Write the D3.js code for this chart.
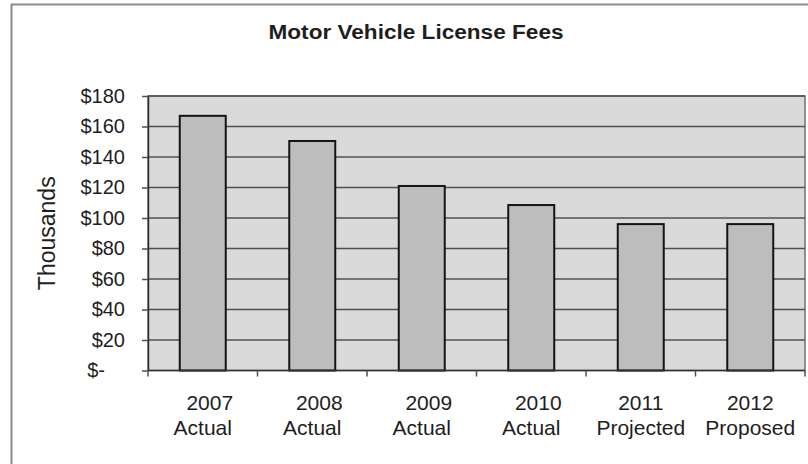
<!DOCTYPE html>
<html>
<head>
<meta charset="utf-8">
<script src="https://cdn.jsdelivr.net/npm/d3@7"></script>
<style>
  html, body { margin: 0; padding: 0; background: #fff; }
  svg { display: block; font-family: "Liberation Sans", Arial, sans-serif; }
</style>
</head>
<body>
<svg id="chart" width="808" height="464"></svg>
<script>
// Motor vehicle license fees, in thousands of dollars
const chartTitle = "Motor Vehicle License Fees";
const axisTitle = "Thousands";
const years = ["2007", "2008", "2009", "2010", "2011", "2012"];
const stages = ["Actual", "Actual", "Actual", "Actual", "Projected", "Proposed"];
const fees = [167, 150.5, 121, 108.5, 96, 96];
const yTicks = [0, 20, 40, 60, 80, 100, 120, 140, 160, 180];

const svg = d3.select("#chart");
const plot = { left: 148, right: 805, top: 96, bottom: 370.5 };
const ink = "#1e1e1e";

const x = d3.scaleBand()
  .domain(years)
  .range([plot.left, plot.right])
  .paddingInner(0.58)
  .paddingOuter(0.29);

const y = d3.scaleLinear()
  .domain([0, 180])
  .range([plot.bottom, plot.top]);

// chart frame
svg.append("rect")
  .attr("x", 11.5).attr("y", 4.5)
  .attr("width", 820).attr("height", 480)
  .attr("fill", "#fff")
  .attr("stroke", "#8c8c8c").attr("stroke-width", 2);

// title
svg.append("text")
  .attr("transform", "translate(416,39) scale(1.13,1)")
  .attr("text-anchor", "middle")
  .attr("font-size", 20).attr("font-weight", "bold")
  .attr("fill", ink)
  .text(chartTitle);

// plot area
svg.append("rect")
  .attr("x", plot.left).attr("y", plot.top)
  .attr("width", plot.right - plot.left)
  .attr("height", plot.bottom - plot.top)
  .attr("fill", "#dadada")
  .attr("stroke", "#707070").attr("stroke-width", 1.5);

// horizontal gridlines
svg.append("g")
  .selectAll("line")
  .data(yTicks.filter(d => d > 0))
  .join("line")
  .attr("x1", plot.left).attr("x2", plot.right)
  .attr("y1", d => y(d)).attr("y2", d => y(d))
  .attr("stroke", "#505050").attr("stroke-width", 1.5);

// bars
svg.append("g")
  .selectAll("rect")
  .data(years.map((yr, i) => ({ yr, v: fees[i] })))
  .join("rect")
  .attr("x", d => x(d.yr))
  .attr("y", d => y(d.v))
  .attr("width", x.bandwidth())
  .attr("height", d => y(0) - y(d.v))
  .attr("fill", "#bdbdbd")
  .attr("stroke", "#141414").attr("stroke-width", 2);

// value axis
const yAxis = d3.axisLeft(y)
  .tickValues(yTicks)
  .tickSizeInner(6).tickSizeOuter(0)
  .tickPadding(17)
  .tickFormat(d => d === 0 ? "$-" : "$" + d);

const yg = svg.append("g")
  .attr("transform", `translate(${plot.left},0)`)
  .call(yAxis);
yg.select(".domain").attr("stroke", "#303030").attr("stroke-width", 1.5);
yg.selectAll(".tick line").attr("stroke", "#505050").attr("stroke-width", 1.5);
yg.selectAll(".tick text")
  .attr("font-size", 20)
  .attr("font-family", "\"Liberation Sans\", Arial, sans-serif")
  .attr("fill", ink)
  .attr("dx", d => d === 0 ? -20 : 0);

// category axis: baseline and ticks between categories
const step = x.step();
const edge0 = x(years[0]) - (step - x.bandwidth()) / 2;
const boundaries = d3.range(years.length + 1).map(i => edge0 + i * step);

svg.append("line")
  .attr("x1", plot.left).attr("x2", plot.right)
  .attr("y1", y(0)).attr("y2", y(0))
  .attr("stroke", "#303030").attr("stroke-width", 1.5);

svg.append("g")
  .selectAll("line")
  .data(boundaries)
  .join("line")
  .attr("x1", d => d).attr("x2", d => d)
  .attr("y1", y(0)).attr("y2", y(0) + 6)
  .attr("stroke", "#505050").attr("stroke-width", 1.5);

// category labels (two lines)
const cats = svg.append("g")
  .attr("font-size", 21)
  .attr("fill", ink)
  .attr("text-anchor", "middle");

cats.selectAll("text.yr")
  .data(years)
  .join("text")
  .attr("class", "yr")
  .attr("x", (d, i) => x(d) + x.bandwidth() / 2 + (stages[i] === "Actual" ? 7 : 0))
  .attr("y", 410)
  .text(d => d);

cats.selectAll("text.st")
  .data(years)
  .join("text")
  .attr("class", "st")
  .attr("x", d => x(d) + x.bandwidth() / 2)
  .attr("y", 435)
  .text((d, i) => stages[i]);

// value axis title
svg.append("text")
  .attr("transform", `translate(55,${(plot.top + plot.bottom) / 2}) rotate(-90)`)
  .attr("text-anchor", "middle")
  .attr("font-size", 23)
  .attr("fill", ink)
  .text(axisTitle);
</script>
</body>
</html>
